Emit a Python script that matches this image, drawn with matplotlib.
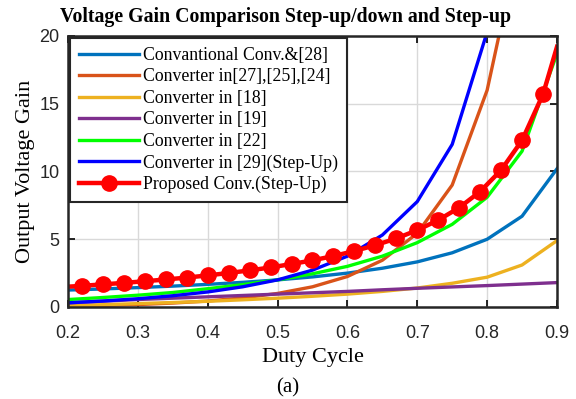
import matplotlib.pyplot as plt

# duty cycle samples and gain curves for each converter
d_main = [0.20, 0.25, 0.30, 0.35, 0.40, 0.45, 0.50, 0.55, 0.60, 0.65, 0.70, 0.75, 0.80, 0.85, 0.90]
gain_conv28 = [1.25, 1.33, 1.43, 1.54, 1.67, 1.82, 2.0, 2.22, 2.5, 2.86, 3.33, 4.0, 5.0, 6.7, 10.2]
gain_18 = [0.1, 0.17, 0.25, 0.33, 0.42, 0.53, 0.65, 0.79, 0.95, 1.15, 1.4, 1.75, 2.2, 3.1, 4.9]
gain_19 = [0.3, 0.43, 0.55, 0.65, 0.75, 0.85, 0.95, 1.05, 1.15, 1.27, 1.38, 1.48, 1.58, 1.69, 1.8]
gain_22 = [0.55, 0.7, 0.87, 1.07, 1.35, 1.65, 2.0, 2.45, 3.0, 3.75, 4.75, 6.1, 8.1, 11.5, 18.7]

d_27 = [0.20, 0.25, 0.30, 0.35, 0.40, 0.45, 0.50, 0.55, 0.60, 0.65, 0.70, 0.75, 0.80, 0.82]
gain_27 = [0.06, 0.11, 0.18, 0.29, 0.44, 0.67, 1.0, 1.49, 2.25, 3.45, 5.44, 9.0, 16.0, 20.75]

d_29 = [0.20, 0.25, 0.30, 0.35, 0.40, 0.45, 0.50, 0.55, 0.60, 0.65, 0.70, 0.75, 0.80]
gain_29 = [0.31, 0.44, 0.61, 0.83, 1.11, 1.49, 2.0, 2.72, 3.75, 5.31, 7.78, 12.0, 20.3]

d_prop = [0.20, 0.22, 0.25, 0.28, 0.31, 0.34, 0.37, 0.40, 0.43, 0.46, 0.49, 0.52,
          0.55, 0.58, 0.61, 0.64, 0.67, 0.70, 0.73, 0.76, 0.79, 0.82, 0.85, 0.88, 0.90]
gain_prop = [1.5, 1.56, 1.67, 1.78, 1.9, 2.03, 2.17, 2.33, 2.51, 2.7, 2.92, 3.17,
             3.44, 3.76, 4.13, 4.56, 5.06, 5.67, 6.41, 7.33, 8.52, 10.1, 12.3, 15.7, 19.2]

labels = ['Convantional Conv.&[28]', 'Converter in[27],[25],[24]', 'Converter in [18]',
          'Converter in [19]', 'Converter in [22]', 'Converter in [29](Step-Up)',
          'Proposed Conv.(Step-Up)']

serif = ['Liberation Serif', 'DejaVu Serif']
sans = ['Liberation Sans', 'DejaVu Sans']

fig = plt.figure(figsize=(5.76, 3.99), dpi=100)
ax = fig.add_axes([0.118, 0.2306, 0.849, 0.6792])

lw = 2.4
ax.plot(d_main, gain_conv28, color='#0072BD', lw=lw, label=labels[0])
ax.plot(d_27, gain_27, color='#D95319', lw=lw, label=labels[1])
ax.plot(d_main, gain_18, color='#EDB120', lw=lw, label=labels[2])
ax.plot(d_main, gain_19, color='#7E2F8E', lw=lw, label=labels[3])
ax.plot(d_main, gain_22, color='#00FF00', lw=lw, label=labels[4])
ax.plot(d_29, gain_29, color='#0000FF', lw=lw, label=labels[5])
ax.plot(d_prop, gain_prop, color='#FF0000', lw=3.2, marker='o', markersize=11,
        markevery=list(range(1, len(d_prop) - 1)), markerfacecolor='#FF0000',
        markeredgecolor='#FF0000', label=labels[6])

ax.set_xlim(0.2, 0.9)
ax.set_ylim(0, 20)
ax.set_xticks([0.2, 0.3, 0.4, 0.5, 0.6, 0.7, 0.8, 0.9])
ax.set_yticks([0, 5, 10, 15, 20])
ax.set_xticklabels(['0.2', '0.3', '0.4', '0.5', '0.6', '0.7', '0.8', '0.9'])
ax.grid(True, color='#d9d9d9', lw=1.0)
ax.set_axisbelow(True)
ax.tick_params(direction='in', top=True, right=True, length=5, width=1.2,
               labelsize=13, labelcolor='#262626')
ax.tick_params(axis='x', pad=13)
ax.tick_params(axis='y', pad=6)
for lab in ax.get_xticklabels() + ax.get_yticklabels():
    lab.set_family(sans)
for s in ax.spines.values():
    s.set_linewidth(1.8)
    s.set_color('#262626')

ax.set_xlabel('Duty Cycle', family=serif, fontsize=16, labelpad=4)
ax.set_ylabel('Output Voltage Gain', family=serif, fontsize=16, labelpad=3)
fig.text(285 / 576, 1 - 17 / 399, 'Voltage Gain Comparison Step-up/down and Step-up',
         family=serif, fontsize=14.3, fontweight='bold', ha='center', va='center')

leg = ax.legend(loc='upper left', prop={'family': serif, 'size': 12.8}, frameon=True,
                fancybox=False, edgecolor='#262626', framealpha=1.0,
                borderaxespad=0.12, handlelength=3.4, handletextpad=0.2,
                labelspacing=0.25, borderpad=0.5)
leg.get_frame().set_linewidth(1.5)

fig.text(288 / 576, 1 - 388 / 399, '(a)', family=serif, fontsize=15, ha='center', va='center')

fig.savefig('out.png', dpi=100)
